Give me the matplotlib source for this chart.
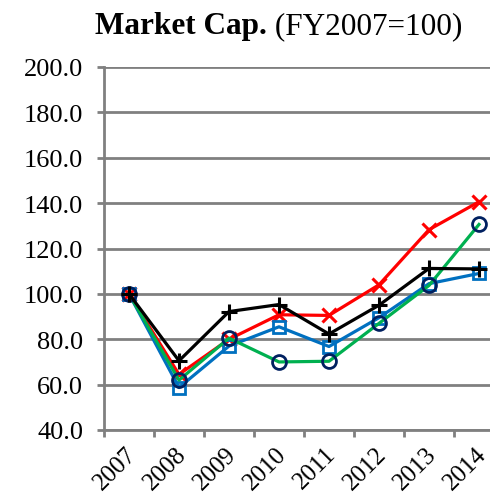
import numpy as np
import matplotlib
matplotlib.use("Agg")
import matplotlib.pyplot as plt
import matplotlib.transforms as mtransforms

# Data
years = ['2007', '2008', '2009', '2010', '2011', '2012', '2013', '2014']
red_x = [100.0, 64.5, 80.0, 90.8, 90.5, 104.0, 128.3, 140.6]
blue_sq = [100.0, 58.7, 77.0, 85.5, 76.8, 89.5, 104.5, 109.0]
green_o = [100.0, 62.0, 80.5, 70.0, 70.3, 87.0, 103.7, 130.6]
black_plus = [100.0, 70.5, 92.2, 95.3, 82.3, 95.0, 111.2, 111.0]

plt.rcParams['font.family'] = ['Liberation Serif', 'DejaVu Serif']

fig = plt.figure(figsize=(4.9, 5.02), dpi=100)
ax = fig.add_axes([104 / 490, 71 / 502, 400 / 490, 363 / 502])

x = np.arange(len(years))
lw = 2.3
ax.plot(x, red_x, color='#FF0000', lw=lw, marker='x', ms=10, mew=2.2, zorder=3)
ax.plot(x, blue_sq, color='#0070C0', lw=lw, marker='s', ms=9, mew=2.0,
        mfc='none', mec='#0070C0', zorder=4)
ax.plot(x, green_o, color='#00B050', lw=lw, marker='o', ms=10, mew=2.0,
        mfc='none', mec='#002060', zorder=5)
ax.plot(x, black_plus, color='#000000', lw=lw, marker='+', ms=12, mew=2.2, zorder=6)

ax.set_xlim(-0.5, len(years) - 0.5)
ax.set_ylim(40, 200)
ax.set_yticks(np.arange(40, 201, 20))
ax.set_yticklabels([f'{v:.1f}' for v in np.arange(40, 201, 20)])
ax.yaxis.grid(True, color='#808080', lw=2)
ax.set_axisbelow(True)

# category boundaries get tick marks, labels sit at centers
ax.set_xticks(np.arange(-0.5, len(years), 1.0))
ax.set_xticklabels([])
ax.set_xticks(x, minor=True)
ax.set_xticklabels(years, minor=True, rotation=45, ha='right',
                   rotation_mode='anchor', fontsize=18)
ax.tick_params(axis='x', which='minor', length=0, pad=9)
ax.tick_params(axis='x', which='major', length=5, width=2, color='#808080')
ax.tick_params(axis='y', length=5, width=2, color='#808080', labelsize=19, pad=10)

# nudge the rotated year labels a little to the left so 2014 stays inside
shift = mtransforms.ScaledTranslation(-4 / 100, 0, fig.dpi_scale_trans)
for lbl in ax.get_xticklabels(minor=True):
    lbl.set_transform(lbl.get_transform() + shift)

for side in ['top', 'right']:
    ax.spines[side].set_visible(False)
for side in ['left', 'bottom']:
    ax.spines[side].set_color('#808080')
    ax.spines[side].set_linewidth(2)

# title: bold part followed by regular part
base_y = 1 - 34 / 502
t1 = fig.text(95 / 490, base_y, 'Market Cap.', fontsize=22.5,
              fontweight='bold', ha='left', va='baseline')
fig.canvas.draw()
bb = t1.get_window_extent()
fig.text(bb.x1 / fig.bbox.width, base_y, ' (FY2007=100)', fontsize=22.5,
         ha='left', va='baseline')

fig.savefig('out.png', dpi=100)
